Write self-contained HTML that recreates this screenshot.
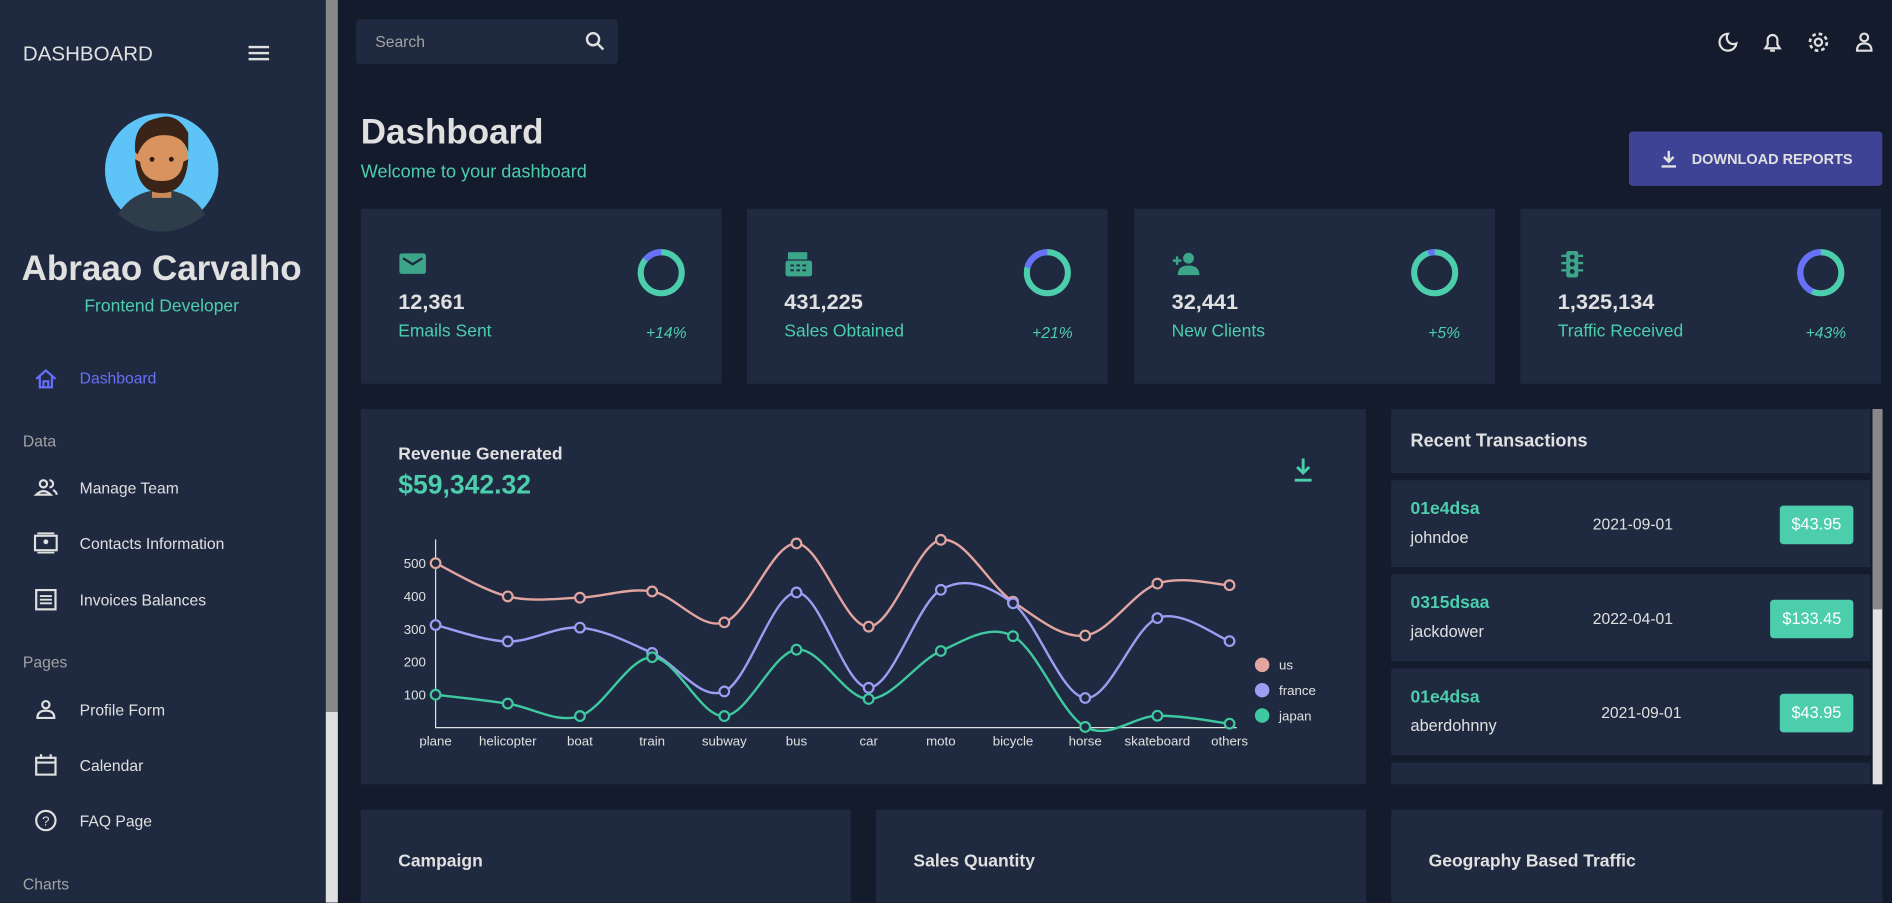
<!DOCTYPE html>
<html><head><meta charset="utf-8">
<style>
*{box-sizing:border-box;margin:0;padding:0}
html,body{width:1892px;height:902px;overflow:hidden;background:#141b2d}
#wrap{position:absolute;left:0;top:0;width:1568px;height:748px;transform:scale(1.20663);transform-origin:0 0;font-family:"Liberation Sans",sans-serif;color:#e0e0e0;background:#141b2d}
.abs{position:absolute}
.card{position:absolute;background:#1f2a40}
.g{color:#4cceac}
.side{left:0;top:0;width:270px;height:748px;background:#1f2a40}
.menu{position:absolute;left:66px;font-size:13px;color:#e0e0e0}
.sec{position:absolute;left:19px;font-size:13px;color:#a3a3a3}
.ic{position:absolute;left:28px;width:20px;height:18px}
.stat .num{position:absolute;left:31px;top:67px;font-size:18px;font-weight:bold}
.stat .lbl{position:absolute;left:31px;top:94px;font-size:14.5px;color:#4cceac}
.stat .pct{position:absolute;right:29px;top:95px;font-size:13px;font-style:italic;color:#4cceac}
.stat svg.d{position:absolute;right:28px;top:31px}
.tx{left:1153px;width:397px;height:72px}
.tx .id{position:absolute;left:16px;top:16px;font-size:14.5px;font-weight:bold;color:#4cceac}
.tx .us{position:absolute;left:16px;top:40px;font-size:13.5px}
.tx .dt{position:absolute;top:29px;font-size:13px}
.tx .amt{position:absolute;right:14px;top:21px;height:32px;background:#4cceac;border-radius:3px;font-size:13.5px;line-height:32px;padding:0 10px;color:#fff}
</style></head><body>
<div id="wrap">
<div class="abs side">
  <div class="abs" style="left:19px;top:35px;font-size:17px">DASHBOARD</div>
  <div class="abs" style="left:206px;top:38px;width:17px;height:12px;border-top:2px solid #e0e0e0;border-bottom:2px solid #e0e0e0"><div style="margin-top:3px;height:2px;background:#e0e0e0"></div></div>
  <svg class="abs" style="left:86px;top:90px" width="96" height="104">
    <circle cx="48" cy="51" r="47" fill="#5ec4f7"/>
    <path d="M12 88 Q20 72 40 68 L56 68 Q76 72 84 88 Q66 102 48 102 Q30 102 12 88Z" fill="#2f3d4a"/>
    <rect x="40" y="62" width="16" height="12" fill="#c98a5a"/>
    <ellipse cx="48" cy="42" rx="22" ry="24" fill="#d9935e"/>
    <path d="M26 42 Q28 70 48 70 Q68 70 70 42 L66 44 Q64 60 48 60 Q32 60 30 44Z" fill="#3a2418"/>
    <path d="M26 36 Q24 12 44 8 Q60 2 70 20 L70 36 Q66 22 50 22 Q34 22 28 38Z" fill="#3a2418"/>
    <circle cx="40" cy="42" r="2" fill="#2a1a10"/><circle cx="56" cy="42" r="2" fill="#2a1a10"/>
  </svg>
  <div class="abs" style="left:0;width:268px;top:207px;text-align:center;font-size:29px;font-weight:bold">Abraao Carvalho</div>
  <div class="abs g" style="left:0;width:268px;top:246px;text-align:center;font-size:14.5px">Frontend Developer</div>
  <svg class="ic" style="top:305px" viewBox="0 0 20 18"><path d="M2 9 L10 2 L18 9 M5 7 V16 H15 V7 M8 16 V11 H12 V16" fill="none" stroke="#6870fa" stroke-width="1.8"/></svg>
  <div class="menu" style="top:306px;color:#6870fa">Dashboard</div>
  <div class="sec" style="top:358px">Data</div>
  <svg class="ic" style="top:395px" viewBox="0 0 20 18"><circle cx="8" cy="6" r="3" fill="none" stroke="#e0e0e0" stroke-width="1.8"/><path d="M2 15 Q8 9 14 15Z M13 3 A3 3 0 0 1 13 9 M16 11 Q19 13 19 15" fill="none" stroke="#e0e0e0" stroke-width="1.8"/></svg>
  <div class="menu" style="top:397px">Manage Team</div>
  <svg class="ic" style="top:441px" viewBox="0 0 20 18"><rect x="1" y="3" width="18" height="12" fill="none" stroke="#e0e0e0" stroke-width="1.8"/><circle cx="10" cy="8" r="2" fill="#e0e0e0"/><path d="M3 1H17 M3 17H17" stroke="#e0e0e0" stroke-width="1.5"/></svg>
  <div class="menu" style="top:443px">Contacts Information</div>
  <svg class="ic" style="top:488px" viewBox="0 0 20 18"><rect x="2" y="1" width="16" height="16" fill="none" stroke="#e0e0e0" stroke-width="1.8"/><path d="M5 6H15M5 9H15M5 12H15" stroke="#e0e0e0" stroke-width="1.5"/></svg>
  <div class="menu" style="top:490px">Invoices Balances</div>
  <div class="sec" style="top:541px">Pages</div>
  <svg class="ic" style="top:579px" viewBox="0 0 20 18"><circle cx="10" cy="5" r="3" fill="none" stroke="#e0e0e0" stroke-width="1.8"/><path d="M3 16 Q3 10 10 10 Q17 10 17 16Z" fill="none" stroke="#e0e0e0" stroke-width="1.8"/></svg>
  <div class="menu" style="top:581px">Profile Form</div>
  <svg class="ic" style="top:625px" viewBox="0 0 20 18"><rect x="2" y="3" width="16" height="14" fill="none" stroke="#e0e0e0" stroke-width="1.8"/><path d="M2 7H18M6 0V4M14 0V4" stroke="#e0e0e0" stroke-width="1.8"/></svg>
  <div class="menu" style="top:627px">Calendar</div>
  <svg class="ic" style="top:671px" viewBox="0 0 20 18"><circle cx="10" cy="9" r="8" fill="none" stroke="#e0e0e0" stroke-width="1.8"/><text x="10" y="13" font-size="11" text-anchor="middle" fill="#e0e0e0" font-family="Liberation Sans">?</text></svg>
  <div class="menu" style="top:673px">FAQ Page</div>
  <div class="sec" style="top:725px">Charts</div>
</div>
<div class="abs" style="left:270px;top:0;width:10px;height:590px;background:#888"></div>
<div class="abs" style="left:270px;top:590px;width:10px;height:158px;background:#e0e0e0"></div>

<div class="card" style="left:295px;top:16px;width:217px;height:37px;border-radius:3px">
  <div class="abs" style="left:16px;top:11px;font-size:13px;color:#a3a3a3">Search</div>
  <svg class="abs" style="left:190px;top:10px" width="16" height="16"><circle cx="6.5" cy="6.5" r="5" fill="none" stroke="#e0e0e0" stroke-width="2"/><path d="M10 10L15 15" stroke="#e0e0e0" stroke-width="2"/></svg>
</div>
<svg class="abs" style="left:1423px;top:26px" width="18" height="18"><path d="M9 2 A7 7 0 1 0 16 10 A5.5 5.5 0 0 1 9 2Z" fill="none" stroke="#e0e0e0" stroke-width="1.8"/></svg>
<svg class="abs" style="left:1461px;top:26px" width="16" height="18"><path d="M2 14H14L12 11V7A4 4 0 0 0 4 7V11Z M6 16H10" fill="none" stroke="#e0e0e0" stroke-width="1.8"/></svg>
<svg class="abs" style="left:1498px;top:26px" width="18" height="18"><circle cx="9" cy="9" r="3" fill="none" stroke="#e0e0e0" stroke-width="1.8"/><circle cx="9" cy="9" r="7" fill="none" stroke="#e0e0e0" stroke-width="2.2" stroke-dasharray="3 2.5"/></svg>
<svg class="abs" style="left:1537px;top:26px" width="16" height="18"><circle cx="8" cy="5" r="3.2" fill="none" stroke="#e0e0e0" stroke-width="1.8"/><path d="M2 16Q2 10 8 10Q14 10 14 16Z" fill="none" stroke="#e0e0e0" stroke-width="1.8"/></svg>

<div class="abs" style="left:299px;top:94px;font-size:29px;font-weight:bold">Dashboard</div>
<div class="abs g" style="left:299px;top:134px;font-size:15px">Welcome to your dashboard</div>
<div class="abs" style="left:1350px;top:109px;width:210px;height:45px;background:#3e4396;border-radius:3px">
  <svg class="abs" style="left:26px;top:15px" width="14" height="15"><path d="M7 1V10M3 6L7 10L11 6M1 14H13" fill="none" stroke="#e0e0e0" stroke-width="2"/></svg>
  <div class="abs" style="left:52px;top:16px;font-size:12px;font-weight:bold">DOWNLOAD REPORTS</div>
</div>

<div id="stats"></div>

<div class="card" style="left:299px;top:339px;width:833px;height:311px">
  <div class="abs" style="left:31px;top:30px;font-size:14.5px;font-weight:bold">Revenue Generated</div>
  <div class="abs g" style="left:31px;top:50px;font-size:22px;font-weight:bold">$59,342.32</div>
  <svg class="abs" style="left:772px;top:40px" width="18" height="22"><path d="M9 1V13M4 8L9 13L14 8M2 19H16" fill="none" stroke="#4cceac" stroke-width="2.4"/></svg>
</div>
<svg id="chart" class="abs" style="left:0;top:0" width="1568" height="748"></svg>

<div class="card" style="left:1153px;top:339px;width:397px;height:53px">
  <div class="abs" style="left:16px;top:18px;font-size:15px;font-weight:bold">Recent Transactions</div>
</div>
<div class="card tx" style="top:398px"><div class="id">01e4dsa</div><div class="us">johndoe</div><div class="dt" style="left:167px">2021-09-01</div><div class="amt">$43.95</div></div>
<div class="card tx" style="top:476px"><div class="id">0315dsaa</div><div class="us">jackdower</div><div class="dt" style="left:167px">2022-04-01</div><div class="amt">$133.45</div></div>
<div class="card tx" style="top:554px"><div class="id">01e4dsa</div><div class="us">aberdohnny</div><div class="dt" style="left:174px">2021-09-01</div><div class="amt">$43.95</div></div>
<div class="card tx" style="top:632px;height:18px"></div>
<div class="abs" style="left:1552px;top:339px;width:8px;height:311px;background:#e0e0e0"><div style="height:166px;background:#888"></div></div>

<div class="card" style="left:299px;top:671px;width:406px;height:77px"><div class="abs" style="left:31px;top:35px;font-size:14.5px;font-weight:bold">Campaign</div></div>
<div class="card" style="left:726px;top:671px;width:406px;height:77px"><div class="abs" style="left:31px;top:35px;font-size:14.5px;font-weight:bold">Sales Quantity</div></div>
<div class="card" style="left:1153px;top:671px;width:407px;height:77px"><div class="abs" style="left:31px;top:35px;font-size:14.5px;font-weight:bold">Geography Based Traffic</div></div>
</div>

<script>
const statValues=["12,361","431,225","32,441","1,325,134"];
const statLabels=["Emails Sent","Sales Obtained","New Clients","Traffic Received"];
const statPercents=[14,21,5,43];
const statLefts=[299,619,940,1260];
const icons=[
 '<rect x="1" y="3" width="22" height="17" rx="2" fill="#3da58a"/><path d="M4 7L12 12L20 7" fill="none" stroke="#1f2a40" stroke-width="2"/>',
 '<rect x="3" y="2" width="16" height="6" fill="#3da58a"/><rect x="1" y="9" width="22" height="13" rx="2" fill="#3da58a"/><path d="M5 13H8M10 13H13M15 13H18M5 17H8M10 17H13M15 17H18" stroke="#1f2a40" stroke-width="1.5"/>',
 '<circle cx="14" cy="7" r="4.5" fill="#3da58a"/><path d="M5 21Q5 13 14 13Q23 13 23 21Z" fill="#3da58a"/><path d="M1 9H8M4.5 5.5V12.5" stroke="#3da58a" stroke-width="2"/>',
 '<rect x="7" y="1" width="10" height="22" rx="2" fill="#3da58a"/><circle cx="12" cy="6" r="2" fill="#1f2a40"/><circle cx="12" cy="12" r="2" fill="#1f2a40"/><circle cx="12" cy="18" r="2" fill="#1f2a40"/><path d="M3 5H7M3 11H7M3 17H7M17 5H21M17 11H21M17 17H21" stroke="#3da58a" stroke-width="2"/>'];
const host=document.getElementById('stats');
statValues.forEach((v,i)=>{
 const d=document.createElement('div');
 d.className='card stat';
 
 
 d.style.cssText=`left:${statLefts[i]}px;top:173px;width:299px;height:145px`;
 const r=17,c=2*Math.PI*r,p=statPercents[i]/100;
 d.innerHTML=`<svg class="abs" style="left:31px;top:34px" width="24" height="24">${icons[i]}</svg>
 <div class="num">${v}</div><div class="lbl">${statLabels[i]}</div><div class="pct">+${statPercents[i]}%</div>
 <svg class="d" width="44" height="44"><circle cx="22" cy="22" r="${r}" fill="none" stroke="#4cceac" stroke-width="5"/>
 <circle cx="22" cy="22" r="${r}" fill="none" stroke="#6870fa" stroke-width="5" stroke-dasharray="${c*p} ${c}" transform="rotate(-90 22 22) scale(1,-1) translate(0,-44)"/></svg>`;
 host.appendChild(d);
});

const categories=["plane","helicopter","boat","train","subway","bus","car","moto","bicycle","horse","skateboard","others"];
const usValues=[500,399,395,414,320,560,307,571,383,280,438,433];
const franceValues=[312,262,304,227,110,411,121,419,378,90,333,263];
const japanValues=[100,73,35,214,35,237,87,233,278,2,36,12];
const yTicks=[100,200,300,400,500];
const seriesNames=["us","france","japan"];
const seriesColors=["#e2a5a0","#9b9ef2","#3fc9a0"];
const X0=361,X1=1019,Y0=603,PXU=0.2725;
const xs=i=>X0+i*(X1-X0)/(categories.length-1);
const ys=v=>Y0-v*PXU;
const svg=document.getElementById('chart');
const NS='http://www.w3.org/2000/svg';
function mk(t,a){const e=document.createElementNS(NS,t);for(const k in a)e.setAttribute(k,a[k]);svg.appendChild(e);return e;}
let e=mk('path',{d:`M${X0} 447V${Y0}H${X1+6}`,stroke:'#e0e0e0','stroke-width':1,fill:'none'});


yTicks.forEach(t=>{
 const l=mk('text',{x:X0-8,y:ys(t)+4,'text-anchor':'end','font-size':11,fill:'#e0e0e0','font-family':'Liberation Sans'});
 l.textContent=t;
 
 
});
categories.forEach((c,i)=>{
 const l=mk('text',{x:xs(i),y:Y0+15,'text-anchor':'middle','font-size':11,fill:'#e0e0e0','font-family':'Liberation Sans'});
 l.textContent=c;
 
 
});
[usValues,franceValues,japanValues].forEach((vals,s)=>{
 const P=vals.map((v,i)=>[xs(i),ys(v)]);
 let d=`M${P[0][0]} ${P[0][1]}`;
 for(let i=0;i<P.length-1;i++){
  const p0=P[Math.max(i-1,0)],p1=P[i],p2=P[i+1],p3=P[Math.min(i+2,P.length-1)];
  const k=6;
  d+=` C${p1[0]+(p2[0]-p0[0])/k} ${p1[1]+(p2[1]-p0[1])/k} ${p2[0]-(p3[0]-p1[0])/k} ${p2[1]-(p3[1]-p1[1])/k} ${p2[0]} ${p2[1]}`;
 }
 const line=mk('path',{d,fill:'none',stroke:seriesColors[s],'stroke-width':2});
 
 
 P.forEach(p=>{
  const c=mk('circle',{cx:p[0],cy:p[1],r:4,fill:'#1f2a40',stroke:seriesColors[s],'stroke-width':1.8});
  
  
 });
 const lc=mk('circle',{cx:1046,cy:551+s*21,r:6,fill:seriesColors[s]});
 
 
 const lt=mk('text',{x:1060,y:555+s*21,'font-size':11,fill:'#e0e0e0','font-family':'Liberation Sans'});
 lt.textContent=seriesNames[s];
 
 
});
</script>
</body></html>
